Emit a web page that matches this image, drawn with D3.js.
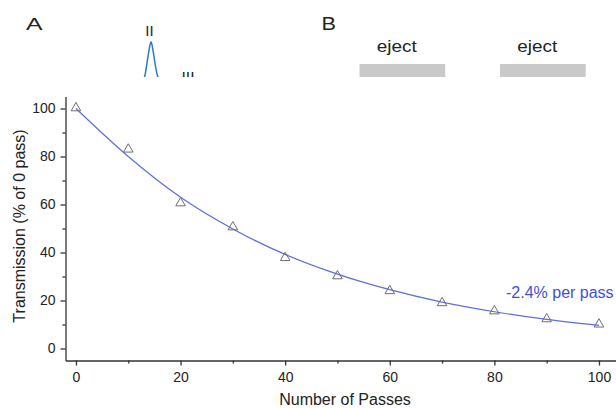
<!DOCTYPE html>
<html>
<head>
<meta charset="utf-8">
<script src="https://cdn.jsdelivr.net/npm/d3@7"></script>
<style>
  body { margin: 0; background: #fff; }
  svg { display: block; font-family: "Liberation Sans", Arial, sans-serif; }
</style>
</head>
<body>
<svg id="chart" width="616" height="408"></svg>
<script>
// transmission vs number of passes (triangles)
const passes = [0, 10, 20, 30, 40, 50, 60, 70, 80, 90, 100];
const transmission = [100.2, 83, 60.6, 50.6, 37.8, 30.2, 24, 19, 15.6, 12.3, 10.1];
// fitted decay curve, read at the same passes
const fitValues = [100, 80, 63, 49.8, 39.2, 31, 24.5, 19.3, 15.3, 12.1, 9.6];
const xTicks = [0, 20, 40, 60, 80, 100];
const xMinor = [10, 30, 50, 70, 90];
const yTicks = [0, 20, 40, 60, 80, 100];
const yMinor = [10, 30, 50, 70, 90];
const fitLabel = "-2.4% per pass";

// cropped bits of the panels above
const peakTime = [-9, -6.5, -4.5, -2.5, -1, 0, 1, 2.5, 4.5, 7, 9.5];
const peakSignal = [0, 10, 38, 70, 92, 100, 92, 70, 38, 10, 0];
const ejectStart = [10, 20];
const ejectEnd = [16.1, 26.1];

const svg = d3.select("#chart");

// ---- top strip (panels A / B, cut off at y=77)
svg.append("clipPath").attr("id", "topclip")
  .append("rect").attr("x", 0).attr("y", 0).attr("width", 616).attr("height", 77);
const strip = svg.append("g").attr("clip-path", "url(#topclip)");

strip.append("text").attr("x", 26).attr("y", 30).attr("font-size", 17)
  .attr("textLength", 16.5).attr("lengthAdjust", "spacingAndGlyphs").attr("fill", "#222").text("A");
strip.append("text").attr("x", 321.5).attr("y", 29.5).attr("font-size", 19)
  .attr("textLength", 14.5).attr("lengthAdjust", "spacingAndGlyphs").attr("fill", "#222").text("B");

const pt = d3.scaleLinear().domain([-10, 10]).range([141, 161]);
const ps = d3.scaleLinear().domain([0, 100]).range([81, 41.7]);
strip.append("path")
  .attr("d", d3.line().x((d, i) => pt(d)).y((d, i) => ps(peakSignal[i])).curve(d3.curveCatmullRom)(peakTime))
  .attr("fill", "none").attr("stroke", "#2b7bc9").attr("stroke-width", 1.5);
strip.append("text").attr("x", 149.5).attr("y", 36).attr("text-anchor", "middle").attr("font-size", 15)
  .attr("fill", "#222").text("II");
strip.append("text").attr("x", 188).attr("y", 82).attr("text-anchor", "middle").attr("font-size", 15)
  .attr("textLength", 13).attr("lengthAdjust", "spacingAndGlyphs").attr("fill", "#222").text("III");

const ts = d3.scaleLinear().domain([10, 20]).range([359.5, 500]);
ejectStart.forEach((s, i) => {
  strip.append("rect").attr("x", ts(s)).attr("y", 64)
    .attr("width", ts(ejectEnd[i]) - ts(s)).attr("height", 16).attr("fill", "#c9c9c9");
  strip.append("text").attr("x", (ts(s) + ts(ejectEnd[i])) / 2 - 5.5).attr("y", 52)
    .attr("text-anchor", "middle").attr("font-size", 17)
    .attr("textLength", 40).attr("lengthAdjust", "spacingAndGlyphs").attr("fill", "#222").text("eject");
});

// ---- main plot
const x = d3.scaleLinear().domain([-2, 104]).range([65.5, 619.9]);
const y = d3.scaleLinear().domain([-5, 105]).range([360.5, 96.5]);

function styleAxis(g) {
  g.selectAll("path, line").attr("stroke", "#333").attr("stroke-width", 1.3);
  g.selectAll("text").attr("fill", "#222").attr("font-size", 14)
    .attr("font-family", "\"Liberation Sans\", Arial, sans-serif");
}

svg.append("g").attr("transform", "translate(0,360.5)")
  .call(d3.axisBottom(x).tickValues(xMinor).tickSize(3).tickFormat(""))
  .call(g => g.select(".domain").remove()).call(styleAxis);
svg.append("g").attr("transform", "translate(0,360.5)")
  .call(d3.axisBottom(x).tickValues(xTicks).tickSize(5).tickSizeOuter(0).tickPadding(7))
  .call(styleAxis);

svg.append("g").attr("transform", "translate(65.5,0)")
  .call(d3.axisLeft(y).tickValues(yMinor).tickSize(3).tickFormat(""))
  .call(g => g.select(".domain").remove()).call(styleAxis);
svg.append("g").attr("transform", "translate(65.5,0)")
  .call(d3.axisLeft(y).tickValues(yTicks).tickSize(5).tickSizeOuter(0).tickPadding(5))
  .call(styleAxis);

// fit curve
svg.append("path")
  .attr("d", d3.line().x((d, i) => x(d)).y((d, i) => y(fitValues[i])).curve(d3.curveMonotoneX)(passes))
  .attr("fill", "none").attr("stroke", "#5c6de3").attr("stroke-width", 1.2);

// data triangles
svg.append("g").selectAll("path").data(passes).join("path")
  .attr("transform", (d, i) => `translate(${x(d)},${y(transmission[i])})`)
  .attr("d", d3.symbol(d3.symbolTriangle, 40))
  .attr("fill", "none").attr("stroke", "#6f6f6f").attr("stroke-width", 1);

svg.append("text").attr("x", 506).attr("y", 297.5).attr("font-size", 16)
  .attr("fill", "#3d50e2").text(fitLabel);

svg.append("text").attr("transform", "translate(25,226) rotate(-90)")
  .attr("text-anchor", "middle").attr("font-size", 16).attr("fill", "#222")
  .text("Transmission (% of 0 pass)");
svg.append("text").attr("x", 345).attr("y", 405).attr("text-anchor", "middle")
  .attr("font-size", 16).attr("fill", "#222").text("Number of Passes");
</script>
</body>
</html>
